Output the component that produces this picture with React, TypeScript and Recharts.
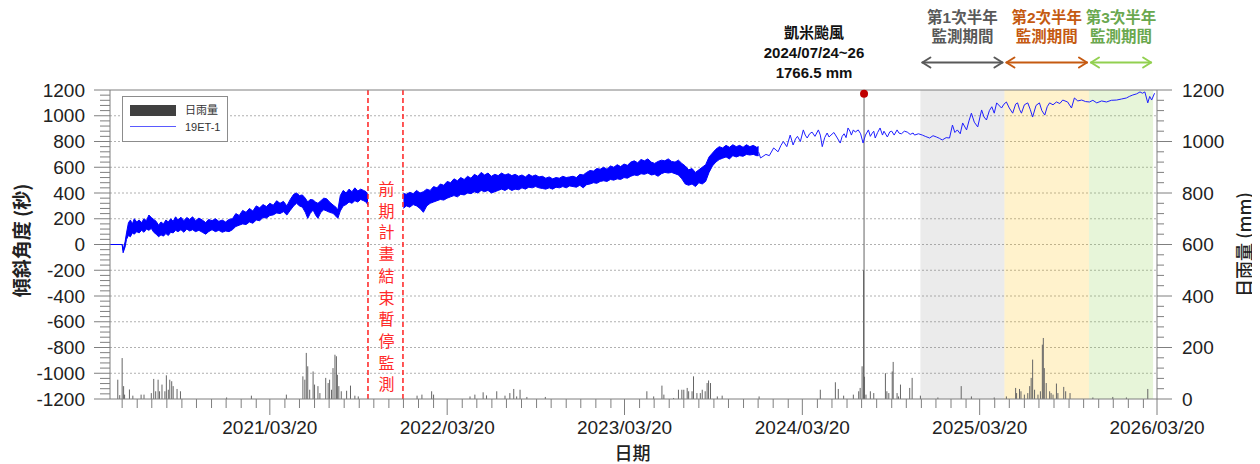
import React from 'react'
import {
  Area,
  Bar,
  CartesianGrid,
  ComposedChart,
  Line,
  ReferenceArea,
  ReferenceDot,
  ReferenceLine,
  XAxis,
  YAxis,
} from 'recharts'

// tilt readings before the pause: [date, low, high] of the daily band
const bandBefore: [string, number, number][] = [
  ['2020-04-25', 0, 0], ['2020-05-20', 0, 0], ['2020-05-22', -64, -40], ['2020-05-26', -20, 20],
  ['2020-05-29', 40, 90], ['2020-06-02', 70, 170], ['2020-06-06', 60, 190], ['2020-06-10', 90, 160],
  ['2020-06-14', 80, 200], ['2020-06-19', 100, 175], ['2020-06-24', 90, 190], ['2020-06-29', 110, 170],
  ['2020-07-04', 95, 200], ['2020-07-09', 120, 185], ['2020-07-14', 110, 229], ['2020-07-19', 125, 210],
  ['2020-07-24', 95, 195], ['2020-07-29', 80, 180], ['2020-08-03', 60, 150], ['2020-08-08', 75, 175],
  ['2020-08-13', 65, 160], ['2020-08-18', 85, 190], ['2020-08-23', 70, 175], ['2020-08-28', 95, 200],
  ['2020-09-02', 90, 180], ['2020-09-07', 110, 215], ['2020-09-12', 100, 190], ['2020-09-18', 115, 212],
  ['2020-09-24', 95, 185], ['2020-09-30', 120, 210], ['2020-10-06', 105, 195], ['2020-10-12', 115, 215],
  ['2020-10-18', 100, 185], ['2020-10-25', 110, 205], ['2020-11-01', 95, 190], ['2020-11-08', 80, 170],
  ['2020-11-14', 100, 195], ['2020-11-21', 115, 185], ['2020-11-28', 100, 200], ['2020-12-05', 110, 180],
  ['2020-12-12', 95, 190], ['2020-12-19', 105, 175], ['2020-12-26', 100, 195], ['2021-01-02', 115, 200],
  ['2021-01-09', 140, 240], ['2021-01-16', 150, 225], ['2021-01-23', 160, 265], ['2021-01-30', 155, 250],
  ['2021-02-06', 175, 280], ['2021-02-13', 165, 260], ['2021-02-20', 190, 300], ['2021-02-27', 185, 285],
  ['2021-03-06', 210, 310], ['2021-03-13', 205, 295], ['2021-03-20', 225, 320], ['2021-03-27', 230, 305],
  ['2021-04-03', 245, 340], ['2021-04-10', 240, 320], ['2021-04-17', 255, 335], ['2021-04-24', 229, 300],
  ['2021-05-01', 265, 350], ['2021-05-08', 300, 390], ['2021-05-14', 320, 400], ['2021-05-20', 300, 380],
  ['2021-05-26', 290, 385], ['2021-06-01', 250, 360], ['2021-06-06', 203, 330], ['2021-06-11', 240, 350],
  ['2021-06-17', 268, 346], ['2021-06-22', 230, 330], ['2021-06-27', 203, 320], ['2021-07-03', 250, 340],
  ['2021-07-09', 270, 360], ['2021-07-15', 260, 355], ['2021-07-21', 250, 330], ['2021-07-28', 242, 307],
  ['2021-08-03', 220, 290], ['2021-08-07', 203, 268], ['2021-08-12', 260, 380], ['2021-08-18', 300, 420],
  ['2021-08-24', 310, 400], ['2021-08-30', 330, 430], ['2021-09-05', 320, 410], ['2021-09-11', 340, 440],
  ['2021-09-17', 330, 415], ['2021-09-23', 350, 430], ['2021-09-29', 340, 420], ['2021-10-04', 330, 410],
  ['2021-10-08', 307, 385],
]

// tilt readings after the pause: [date, low, high]
const bandAfter: [string, number, number][] = [
  ['2021-12-20', 281, 397], ['2021-12-26', 300, 390], ['2022-01-02', 290, 405], ['2022-01-09', 310, 395],
  ['2022-01-16', 300, 420], ['2022-01-23', 280, 400], ['2022-01-30', 250, 410], ['2022-02-06', 300, 430],
  ['2022-02-13', 320, 420], ['2022-02-20', 330, 450], ['2022-02-27', 340, 440], ['2022-03-06', 350, 470],
  ['2022-03-13', 345, 460], ['2022-03-20', 360, 490], ['2022-03-27', 370, 480], ['2022-04-03', 380, 510],
  ['2022-04-10', 370, 495], ['2022-04-17', 390, 520], ['2022-04-24', 385, 505], ['2022-05-01', 400, 530],
  ['2022-05-08', 395, 515], ['2022-05-15', 410, 545], ['2022-05-22', 400, 530], ['2022-05-29', 420, 560],
  ['2022-06-05', 410, 540], ['2022-06-12', 420, 555], ['2022-06-19', 400, 530], ['2022-06-26', 410, 545],
  ['2022-07-03', 420, 535], ['2022-07-10', 430, 555], ['2022-07-17', 420, 540], ['2022-07-24', 435, 550],
  ['2022-07-31', 420, 535], ['2022-08-07', 430, 545], ['2022-08-14', 425, 530], ['2022-08-21', 440, 540],
  ['2022-08-28', 430, 525], ['2022-09-04', 445, 545], ['2022-09-11', 440, 530], ['2022-09-18', 450, 540],
  ['2022-09-25', 440, 525], ['2022-10-02', 435, 530], ['2022-10-09', 430, 515], ['2022-10-16', 440, 525],
  ['2022-10-23', 430, 510], ['2022-10-30', 445, 520], ['2022-11-06', 440, 515], ['2022-11-13', 450, 530],
  ['2022-11-20', 440, 520], ['2022-11-27', 455, 525], ['2022-12-04', 450, 530], ['2022-12-11', 445, 520],
  ['2022-12-18', 460, 545], ['2022-12-25', 440, 540], ['2023-01-01', 465, 560], ['2023-01-08', 470, 575],
  ['2023-01-15', 480, 570], ['2023-01-22', 475, 590], ['2023-01-29', 490, 585], ['2023-02-05', 495, 600],
  ['2023-02-12', 490, 585], ['2023-02-19', 505, 610], ['2023-02-26', 500, 600], ['2023-03-05', 510, 620],
  ['2023-03-12', 505, 605], ['2023-03-19', 520, 625], ['2023-03-26', 515, 615], ['2023-04-02', 530, 640],
  ['2023-04-09', 540, 650], ['2023-04-16', 535, 635], ['2023-04-23', 550, 660], ['2023-04-30', 545, 650],
  ['2023-05-07', 555, 665], ['2023-05-14', 540, 640], ['2023-05-21', 545, 630], ['2023-05-28', 530, 645],
  ['2023-06-04', 550, 655], ['2023-06-11', 560, 650], ['2023-06-18', 555, 665], ['2023-06-25', 560, 645],
  ['2023-07-02', 550, 640], ['2023-07-09', 540, 655], ['2023-07-16', 510, 630], ['2023-07-23', 470, 610],
  ['2023-07-30', 460, 580], ['2023-08-06', 470, 590], ['2023-08-13', 450, 560], ['2023-08-20', 480, 580],
  ['2023-08-27', 470, 600], ['2023-09-03', 490, 620], ['2023-09-10', 560, 680], ['2023-09-17', 610, 710],
  ['2023-09-24', 640, 740], ['2023-10-01', 660, 760], ['2023-10-08', 670, 750], ['2023-10-15', 680, 770],
  ['2023-10-22', 665, 755], ['2023-10-29', 690, 775], ['2023-11-05', 680, 760], ['2023-11-12', 690, 770],
  ['2023-11-19', 685, 755], ['2023-11-26', 700, 775], ['2023-12-03', 695, 760], ['2023-12-10', 700, 770],
  ['2023-12-17', 690, 755], ['2023-12-21', 690, 760],
]

// sparser readings from 2023/12 on: [date, tilt]
const tiltLate: [string, number][] = [
  ['2023-12-21', 718], ['2023-12-25', 672], ['2024-01-05', 700], ['2024-01-12', 690], ['2024-01-21', 750],
  ['2024-01-30', 720], ['2024-02-05', 770], ['2024-02-10', 800], ['2024-02-17', 760], ['2024-02-24', 850],
  ['2024-03-01', 773], ['2024-03-06', 820], ['2024-03-10', 840], ['2024-03-16', 800], ['2024-03-22', 890],
  ['2024-03-26', 850], ['2024-03-30', 827], ['2024-04-04', 860], ['2024-04-09', 873], ['2024-04-15', 840],
  ['2024-04-22', 890], ['2024-04-26', 850], ['2024-04-30', 760], ['2024-05-05', 830], ['2024-05-10', 866],
  ['2024-05-14', 835], ['2024-05-18', 850], ['2024-05-24', 870], ['2024-05-31', 827], ['2024-06-06', 788],
  ['2024-06-10', 840], ['2024-06-14', 860], ['2024-06-18', 830], ['2024-06-22', 905], ['2024-06-26', 880],
  ['2024-06-29', 850], ['2024-07-03', 890], ['2024-07-07', 873], ['2024-07-13', 890], ['2024-07-18', 860],
  ['2024-07-23', 788], ['2024-07-28', 850], ['2024-08-03', 890], ['2024-08-07', 840], ['2024-08-10', 860],
  ['2024-08-14', 880], ['2024-08-17', 827], ['2024-08-22', 870], ['2024-08-27', 905], ['2024-09-01', 850],
  ['2024-09-04', 880], ['2024-09-11', 835], ['2024-09-16', 875], ['2024-09-20', 880], ['2024-09-25', 850],
  ['2024-10-01', 890], ['2024-10-05', 865], ['2024-10-10', 860], ['2024-10-16', 880], ['2024-10-22', 873],
  ['2024-10-28', 855], ['2024-11-03', 866], ['2024-11-06', 850], ['2024-11-14', 860], ['2024-11-22', 850],
  ['2024-11-28', 840], ['2024-12-07', 827], ['2024-12-14', 845], ['2024-12-21', 835], ['2024-12-27', 825],
  ['2025-01-02', 812], ['2025-01-10', 830], ['2025-01-17', 827], ['2025-01-23', 928], ['2025-01-28', 870],
  ['2025-02-02', 890], ['2025-02-08', 860], ['2025-02-13', 944], ['2025-02-21', 890], ['2025-02-26', 960],
  ['2025-03-03', 1020], ['2025-03-09', 950], ['2025-03-16', 913], ['2025-03-24', 1045], ['2025-03-29', 990],
  ['2025-04-03', 967], ['2025-04-09', 1040], ['2025-04-14', 1070], ['2025-04-19', 1020], ['2025-04-24', 1100],
  ['2025-05-04', 1060], ['2025-05-09', 1090], ['2025-05-14', 1107], ['2025-05-20', 1060], ['2025-05-27', 1020],
  ['2025-06-02', 1090], ['2025-06-06', 1100], ['2025-06-10', 1050], ['2025-06-14', 1020], ['2025-06-20', 1085],
  ['2025-06-27', 1100], ['2025-07-02', 1050], ['2025-07-07', 990], ['2025-07-14', 1080], ['2025-07-21', 1100],
  ['2025-07-26', 1040], ['2025-08-01', 1005], ['2025-08-06', 1070], ['2025-08-11', 1100], ['2025-08-18', 1085],
  ['2025-08-25', 1107], ['2025-09-01', 1095], ['2025-09-07', 1122], ['2025-09-17', 1107], ['2025-09-25', 1060],
  ['2025-10-01', 1138], ['2025-10-08', 1115], ['2025-10-16', 1122], ['2025-10-24', 1110], ['2025-11-01', 1107],
  ['2025-11-08', 1120], ['2025-11-16', 1100], ['2025-11-26', 1115], ['2025-12-06', 1107], ['2025-12-16', 1120],
  ['2025-12-27', 1122], ['2026-01-06', 1130], ['2026-01-16', 1138], ['2026-01-22', 1150], ['2026-01-29', 1161],
  ['2026-02-06', 1170], ['2026-02-13', 1185], ['2026-02-18', 1175], ['2026-02-23', 1185], ['2026-03-01', 1100],
  ['2026-03-05', 1150], ['2026-03-09', 1122], ['2026-03-15', 1175],
]

// daily rainfall (mm)
const rainDays: [string, number][] = [
  ['2020-05-11', 75], ['2020-05-15', 15], ['2020-05-20', 159], ['2020-05-23', 50],
  ['2020-05-25', 17], ['2020-06-04', 37], ['2020-06-11', 13], ['2020-06-28', 17],
  ['2020-07-04', 17], ['2020-07-19', 23], ['2020-07-24', 78], ['2020-07-28', 30],
  ['2020-08-02', 75], ['2020-08-05', 30], ['2020-08-10', 56], ['2020-08-16', 30],
  ['2020-08-19', 92], ['2020-08-23', 36], ['2020-08-26', 75], ['2020-08-30', 69],
  ['2020-09-02', 50], ['2020-09-10', 39], ['2020-09-17', 30], ['2020-12-21', 6],
  ['2021-02-10', 13], ['2021-04-23', 17], ['2021-05-27', 88], ['2021-05-31', 75],
  ['2021-06-03', 179], ['2021-06-06', 127], ['2021-06-10', 36], ['2021-06-17', 107],
  ['2021-06-20', 56], ['2021-06-27', 50], ['2021-07-01', 23], ['2021-07-13', 82],
  ['2021-07-18', 62], ['2021-07-21', 75], ['2021-07-25', 36], ['2021-07-28', 120],
  ['2021-08-01', 172], ['2021-08-04', 166], ['2021-08-06', 94], ['2021-08-09', 50],
  ['2021-08-14', 30], ['2021-08-25', 32], ['2021-09-02', 52], ['2021-09-11', 13],
  ['2021-09-18', 10], ['2022-01-17', 13], ['2022-01-27', 17], ['2022-02-16', 30],
  ['2022-02-20', 17], ['2022-05-06', 10], ['2022-05-16', 17], ['2022-06-02', 26],
  ['2022-06-09', 14], ['2022-06-30', 30], ['2022-07-17', 13], ['2022-07-27', 23],
  ['2022-08-04', 39], ['2022-08-10', 10], ['2022-08-17', 36], ['2022-08-31', 8],
  ['2022-10-08', 8], ['2023-05-05', 30], ['2023-05-19', 10], ['2023-06-05', 52],
  ['2023-06-09', 17], ['2023-06-29', 4], ['2023-07-09', 36], ['2023-07-16', 36],
  ['2023-07-20', 36], ['2023-07-27', 43], ['2023-07-30', 30], ['2023-08-06', 30],
  ['2023-08-09', 88], ['2023-08-16', 23], ['2023-08-23', 23], ['2023-08-27', 36],
  ['2023-09-02', 30], ['2023-09-06', 62], ['2023-09-09', 72], ['2023-09-13', 62],
  ['2023-09-27', 10], ['2023-10-07', 13], ['2023-12-22', 10], ['2024-04-26', 36],
  ['2024-05-27', 65], ['2024-06-02', 39], ['2024-06-13', 13], ['2024-07-03', 17],
  ['2024-07-14', 30], ['2024-07-17', 43], ['2024-07-21', 127], ['2024-07-24', 500],
  ['2024-07-25', 1180], ['2024-07-26', 86.5], ['2024-07-29', 17], ['2024-08-07', 30],
  ['2024-08-14', 23], ['2024-09-07', 100], ['2024-09-10', 30], ['2024-09-14', 23],
  ['2024-09-21', 107], ['2024-09-23', 144], ['2024-10-01', 23], ['2024-10-04', 10],
  ['2024-10-08', 56], ['2024-10-27', 43], ['2024-11-01', 82], ['2024-11-18', 13],
  ['2024-12-24', 6], ['2025-02-10', 50], ['2025-03-03', 10], ['2025-04-19', 6],
  ['2025-05-14', 10], ['2025-06-02', 43], ['2025-06-04', 23], ['2025-06-10', 39],
  ['2025-06-13', 30], ['2025-06-20', 17], ['2025-06-27', 23], ['2025-07-01', 50],
  ['2025-07-04', 82], ['2025-07-07', 153], ['2025-07-11', 36], ['2025-07-18', 17],
  ['2025-07-23', 30], ['2025-07-27', 211], ['2025-07-29', 237], ['2025-07-31', 120],
  ['2025-08-04', 62], ['2025-08-11', 30], ['2025-08-14', 23], ['2025-08-18', 17],
  ['2025-08-25', 60], ['2025-08-28', 23], ['2025-09-09', 47], ['2025-09-13', 30],
  ['2025-09-22', 23], ['2025-11-08', 6], ['2025-12-19', 8], ['2026-01-16', 6],
  ['2026-03-01', 39],
]

const monitorPeriods = [
  { from: '2024-11-18', to: '2025-05-10', title: '第1次半年', sub: '監測期間' },
  { from: '2025-05-10', to: '2025-10-31', title: '第2次半年', sub: '監測期間' },
  { from: '2025-10-31', to: '2026-03-12', title: '第3次半年', sub: '監測期間' },
]
const pauseFrom = '2021-10-08'
const pauseTo = '2021-12-19'
const pauseText = '前期計畫結束暫停監測'
const kaemiDay = '2024-07-25'
const kaemiLines = ['凱米颱風', '2024/07/24~26', '1766.5 mm']

const xStart = '2020-04-25'
const xEnd = '2026-03-20'
const yearTicks = ['2021/03/20', '2022/03/20', '2023/03/20', '2024/03/20', '2025/03/20', '2026/03/20']
const leftLabels = [-1200, -1000, -800, -600, -400, -200, 0, 200, 400, 600, 800, 1000, 1200]
const rightLabels = [0, 200, 400, 600, 800, 1000, 1200]

const periodStyles = [
  { fill: '#808080', opacity: 0.16, text: '#595959', arrow: '#595959' },
  { fill: '#ffc000', opacity: 0.2, text: '#c55a11', arrow: '#c55a11' },
  { fill: '#92d050', opacity: 0.22, text: '#6aa84f', arrow: '#92d050' },
]

const DAY = 86400000
const toDay = (s: string) => {
  const [y, m, d] = s.split('-').map(Number)
  return Date.UTC(y, m - 1, d) / DAY
}
const fmtDay = (t: number) => {
  const d = new Date(t * DAY)
  const mm = String(d.getUTCMonth() + 1).padStart(2, '0')
  const dd = String(d.getUTCDate()).padStart(2, '0')
  return `${d.getUTCFullYear()}/${mm}/${dd}`
}

const X0 = toDay(xStart)
const X1 = toDay(xEnd)

const monthTicks: number[] = []
for (let y = 2020; y <= 2026; y++) {
  for (let m = 0; m < 12; m++) {
    const t = Date.UTC(y, m, 20) / DAY
    if (t >= X0 && t <= X1) monthTicks.push(t)
  }
}
const leftTicks: number[] = []
for (let v = -1200; v <= 1200; v += 40) leftTicks.push(v)
const rightTicks: number[] = []
for (let v = 0; v <= 1200; v += 40) rightTicks.push(v)
const gridValues = leftLabels.filter((v) => v > -1200 && v < 1200)

const rainRows = rainDays.map(([d, v]) => ({ t: toDay(d), rain: v }))
const bandRowsA = bandBefore.map(([d, lo, hi]) => ({ t: toDay(d), range: [lo, hi] }))
const bandRowsB = bandAfter.map(([d, lo, hi]) => ({ t: toDay(d), range: [lo, hi] }))
const lateRows = tiltLate.map(([d, v]) => ({ t: toDay(d), tilt: v }))

const W = 1252
const H = 456
const AXIS = '#7f7f7f'
const LATIN = '"Liberation Sans", Arial, sans-serif'
const MIXED = '"Liberation Sans", "Noto Sans CJK TC", sans-serif'
const CJK = '"Noto Sans CJK TC", "Noto Sans CJK SC", sans-serif'

function XTick({ x, y, payload }: any) {
  const label = fmtDay(payload.value)
  const major = yearTicks.includes(label)
  return (
    <g>
      <line x1={x} x2={x} y1={y} y2={y + (major ? 16 : 9)} stroke={AXIS} />
      {major && (
        <text x={x} y={y + 28} textAnchor="middle" dominantBaseline="central" fontSize={19} fill="#222" fontFamily={LATIN}>
          {label}
        </text>
      )}
    </g>
  )
}

function LeftTick({ x, y, payload }: any) {
  const major = leftLabels.includes(payload.value)
  return (
    <g>
      <line x1={x - (major ? 16 : 10)} x2={x} y1={y} y2={y} stroke={AXIS} />
      {major && (
        <text x={x - 25} y={y} textAnchor="end" dominantBaseline="central" fontSize={19} fill="#222" fontFamily={LATIN}>
          {payload.value}
        </text>
      )}
    </g>
  )
}

function RightTick({ x, y, payload }: any) {
  const major = rightLabels.includes(payload.value)
  return (
    <g>
      <line x1={x} x2={x + (major ? 15 : 7)} y1={y} y2={y} stroke={AXIS} />
      {major && (
        <text x={x + 25} y={y} textAnchor="start" dominantBaseline="central" fontSize={19} fill="#222" fontFamily={LATIN}>
          {payload.value}
        </text>
      )}
    </g>
  )
}

function AxisTitle({ viewBox, text, dx, dy, rotate, weight, size }: any) {
  if (!viewBox) return null
  const cx = rotate ? viewBox.x + dx : viewBox.x + viewBox.width / 2 + dx
  const cy = rotate ? viewBox.y + viewBox.height / 2 + dy : viewBox.y + dy
  return (
    <text
      x={cx}
      y={cy}
      transform={rotate ? `rotate(-90 ${cx} ${cy})` : undefined}
      textAnchor="middle"
      dominantBaseline="central"
      fontSize={size}
      fontWeight={weight}
      fill="#222"
      fontFamily={CJK}
    >
      {text}
    </text>
  )
}

function DoubleArrow({ x1, x2, y, color }: any) {
  return (
    <g stroke={color} strokeWidth={2} fill="none" strokeLinecap="round" strokeLinejoin="round">
      <line x1={x1} x2={x2} y1={y} y2={y} />
      <polyline points={`${x1 + 8},${y - 5} ${x1},${y} ${x1 + 8},${y + 5}`} />
      <polyline points={`${x2 - 8},${y - 5} ${x2},${y} ${x2 - 8},${y + 5}`} />
    </g>
  )
}

function PeriodLabel({ viewBox, title, sub, style }: any) {
  if (!viewBox) return null
  const { x, y, width } = viewBox
  const cx = x + width / 2
  return (
    <g>
      <text x={cx} y={y - 73} textAnchor="middle" dominantBaseline="central" fontSize={15.5} fontWeight="bold" fill={style.text} fontFamily={MIXED}>
        {title}
      </text>
      <text x={cx} y={y - 54} textAnchor="middle" dominantBaseline="central" fontSize={15.5} fontWeight="bold" fill={style.text} fontFamily={MIXED}>
        {sub}
      </text>
      <DoubleArrow x1={x + 2} x2={x + width - 2} y={y - 27.5} color={style.arrow} />
    </g>
  )
}

function PauseLabel({ viewBox }: any) {
  if (!viewBox) return null
  const cx = viewBox.x + viewBox.width / 2 + 1
  const top = viewBox.y + 98
  return (
    <text fill="#ff2a2a" fontSize={16} fontFamily={CJK} textAnchor="middle" dominantBaseline="central">
      {pauseText.split('').map((c, i) => (
        <tspan key={i} x={cx} y={top + i * 21.7}>
          {c}
        </tspan>
      ))}
    </text>
  )
}

function KaemiLabel({ viewBox }: any) {
  if (!viewBox) return null
  const cx = viewBox.x + viewBox.width / 2 - 50
  const cy = viewBox.y + viewBox.height / 2
  return (
    <g>
      {kaemiLines.map((s, i) => (
        <text key={s} x={cx} y={cy - 61 + i * 20} textAnchor="middle" dominantBaseline="central" fontSize={15} fontWeight="bold" fill="#111" fontFamily={MIXED}>
          {s}
        </text>
      ))}
    </g>
  )
}

function RainBar(props: any) {
  const { x, y, width, height } = props
  if (!height || height <= 0) return null
  return <rect x={x + width / 2 - 0.5} y={y} width={1} height={height} fill="#666666" />
}

function LegendBox() {
  return (
    <div
      style={{
        position: 'absolute',
        left: 114,
        top: 88,
        width: 104,
        height: 44,
        border: '1px solid #8c8c8c',
        background: '#fff',
        fontFamily: MIXED,
        fontSize: 11,
        color: '#333',
      }}
    >
      <div style={{ position: 'absolute', left: 7, top: 8, width: 46, height: 11, background: '#404040' }} />
      <div style={{ position: 'absolute', left: 62, top: 6, lineHeight: '14px' }}>日雨量</div>
      <div style={{ position: 'absolute', left: 7, top: 29, width: 46, height: 1, background: '#5a5aff' }} />
      <div style={{ position: 'absolute', left: 62, top: 23, lineHeight: '14px' }}>19ET-1</div>
    </div>
  )
}

export default function App() {
  return (
    <div style={{ position: 'relative', width: W, height: H }}>
      <ComposedChart width={W} height={H} data={rainRows} margin={{ top: 82, right: 0, bottom: 0, left: 0 }}>
        <CartesianGrid
          yAxisId="left"
          vertical={false}
          horizontalValues={gridValues}
          stroke="#b0b0b0"
          strokeDasharray="2 2"
        />
        <XAxis
          dataKey="t"
          type="number"
          domain={[X0, X1]}
          allowDataOverflow
          ticks={monthTicks}
          interval={0}
          tick={<XTick />}
          tickLine={false}
          tickSize={0}
          tickMargin={0}
          height={65}
          stroke={AXIS}
          label={<AxisTitle text="日期" dx={-1} dy={53} weight={500} size={18} />}
        />
        <YAxis
          yAxisId="left"
          type="number"
          domain={[-1200, 1200]}
          allowDataOverflow
          ticks={leftTicks}
          interval={0}
          tick={<LeftTick />}
          tickLine={false}
          tickSize={0}
          tickMargin={0}
          width={102}
          stroke={AXIS}
          label={<AxisTitle text="傾斜角度 (秒)" dx={12} dy={-4} rotate weight="bold" size={19} />}
        />
        <YAxis
          yAxisId="right"
          orientation="right"
          type="number"
          domain={[0, 1200]}
          allowDataOverflow
          ticks={rightTicks}
          interval={0}
          tick={<RightTick />}
          tickLine={false}
          tickSize={0}
          tickMargin={0}
          width={103}
          stroke={AXIS}
          label={<AxisTitle text="日雨量 (mm)" dx={86} dy={0} rotate weight={500} size={18} />}
        />
        {monitorPeriods.map((p, i) => (
          <ReferenceArea
            key={p.title}
            yAxisId="left"
            x1={toDay(p.from)}
            x2={toDay(p.to)}
            fill={periodStyles[i].fill}
            fillOpacity={periodStyles[i].opacity}
            stroke="none"
            label={<PeriodLabel title={p.title} sub={p.sub} style={periodStyles[i]} />}
          />
        ))}
        <ReferenceArea
          yAxisId="left"
          x1={toDay(pauseFrom)}
          x2={toDay(pauseTo)}
          fill="#fff"
          fillOpacity={0}
          stroke="none"
          label={<PauseLabel />}
        />
        <ReferenceLine yAxisId="left" x={toDay(pauseFrom)} stroke="#ff2020" strokeWidth={1.5} strokeDasharray="5 3" />
        <ReferenceLine yAxisId="left" x={toDay(pauseTo)} stroke="#ff2020" strokeWidth={1.5} strokeDasharray="5 3" />
        <ReferenceLine yAxisId="left" y={1200} stroke={AXIS} />
        <Bar dataKey="rain" yAxisId="right" fill="#666666" shape={<RainBar />} isAnimationActive={false} />
        <Area
          data={bandRowsA}
          dataKey="range"
          yAxisId="left"
          type="linear"
          stroke="#0000ff"
          strokeWidth={1}
          fill="#0000ff"
          fillOpacity={1}
          dot={false}
          activeDot={false}
          isAnimationActive={false}
        />
        <Area
          data={bandRowsB}
          dataKey="range"
          yAxisId="left"
          type="linear"
          stroke="#0000ff"
          strokeWidth={1}
          fill="#0000ff"
          fillOpacity={1}
          dot={false}
          activeDot={false}
          isAnimationActive={false}
        />
        <Line
          data={lateRows}
          dataKey="tilt"
          yAxisId="left"
          type="linear"
          stroke="#1f1fff"
          strokeWidth={1}
          dot={false}
          activeDot={false}
          isAnimationActive={false}
        />
        <ReferenceDot
          yAxisId="right"
          x={toDay(kaemiDay)}
          y={1185}
          r={4}
          fill="#c00000"
          stroke="none"
          label={<KaemiLabel />}
        />
      </ComposedChart>
      <LegendBox />
    </div>
  )
}
